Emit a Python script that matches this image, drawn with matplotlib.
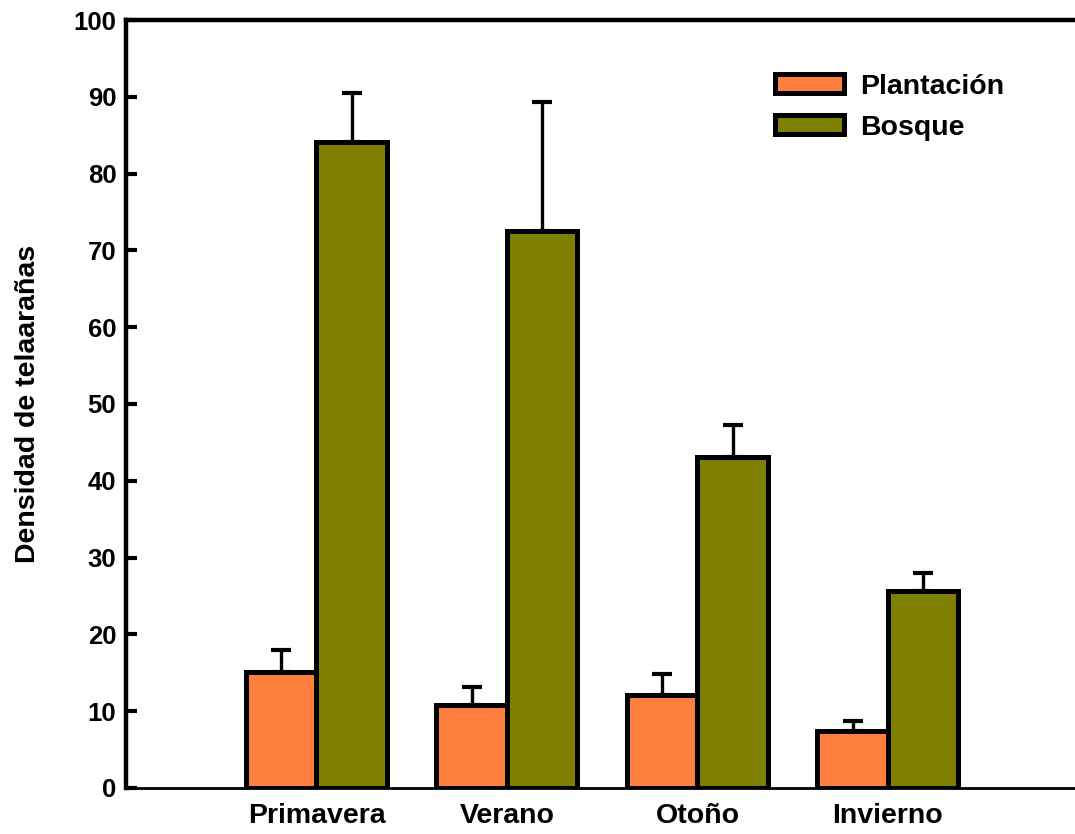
import numpy as np
import matplotlib
matplotlib.use("Agg")
import matplotlib.pyplot as plt

plt.rcParams['font.family'] = ['Liberation Sans', 'DejaVu Sans']
plt.rcParams['font.weight'] = 'bold'

seasons = ['Primavera', 'Verano', 'Otoño', 'Invierno']
plantacion = [15.1, 10.8, 12.1, 7.4]
plantacion_err = [2.9, 2.4, 2.7, 1.3]
bosque = [84.1, 72.5, 43.1, 25.6]
bosque_err = [6.4, 16.8, 4.2, 2.4]

x = np.arange(1, len(seasons) + 1)
w = 0.37

fig = plt.figure(figsize=(10.75, 8.34), dpi=100)
ax = fig.add_axes([0.1172, 0.0552, 0.886, 0.9208])

ax.bar(x - w / 2, plantacion, w, color='#ff7f3f', edgecolor='black',
       linewidth=3.6, label='Plantación', zorder=2)
ax.bar(x + w / 2, bosque, w, color='#808000', edgecolor='black',
       linewidth=3.6, label='Bosque', zorder=2)

err_kw = dict(fmt='none', ecolor='black', elinewidth=2.4, capsize=7.5,
              capthick=3, zorder=1)
ax.errorbar(x - w / 2, plantacion, yerr=[np.zeros(4), plantacion_err], **err_kw)
ax.errorbar(x + w / 2, bosque, yerr=[np.zeros(4), bosque_err], **err_kw)

ax.set_xlim(0, 5)
ax.set_ylim(0, 100)
ax.set_yticks(range(0, 101, 10))
ax.set_xticks(x)
ax.set_xticklabels(seasons, fontsize=20.5, fontweight='bold')
ax.tick_params(axis='x', length=0, pad=11)
ax.tick_params(axis='y', direction='in', length=8, width=3, labelsize=18.5, pad=7)
for lab in ax.get_yticklabels():
    lab.set_fontweight('bold')

ax.spines['left'].set_linewidth(3.2)
ax.spines['top'].set_linewidth(3.2)
ax.spines['bottom'].set_linewidth(2.0)
ax.spines['right'].set_visible(False)

ax.set_ylabel('Densidad de telaarañas', fontsize=20.5, fontweight='bold', labelpad=23)

leg = ax.legend(loc='upper left', bbox_to_anchor=(0.66, 0.956), frameon=False,
                fontsize=20.5, handlelength=2.45, handleheight=0.62,
                handletextpad=0.55, labelspacing=0.52, borderaxespad=0.3)
for t in leg.get_texts():
    t.set_fontweight('bold')

fig.savefig('out.png', dpi=100)
